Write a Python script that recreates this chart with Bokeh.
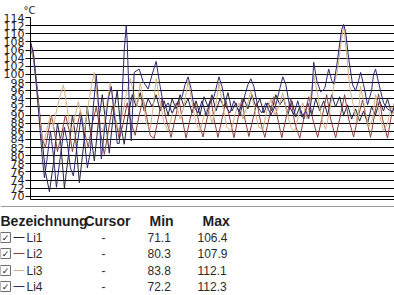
from bokeh.plotting import figure
from bokeh.models import Range1d, FixedTicker
from bokeh.layouts import column
from bokeh.embed import file_html
from bokeh.resources import INLINE
from bokeh.core.properties import value

# ---------------- data ----------------
y_ticks = [70, 72, 74, 76, 78, 80, 82, 84, 86, 88, 90, 92, 94, 96, 98, 100,
           102, 104, 106, 108, 110, 112, 114]
unit_label = "°C"

t_li1 = [0, 3, 6, 9, 12, 15, 19, 23, 27, 30, 34, 38, 42, 45, 49, 53, 57, 60, 64, 68,
         72, 75, 79, 83, 87, 90, 94, 98, 102, 106, 110, 114, 118, 122, 126, 130, 134,
         138, 142, 146, 150, 154, 158, 162, 166, 170, 174, 178, 182, 186, 190, 194,
         198, 202, 206, 210, 214, 218, 222, 226, 230, 234, 238, 242, 246, 250, 254,
         258, 262, 266, 270, 274, 278, 282, 286, 290, 294, 298, 302, 306, 310, 314,
         318, 322, 326, 330, 334, 338, 342, 346, 350, 354, 358, 362, 365]
v_li1 = [106.4, 104, 98, 91, 83, 76, 71.1, 78, 88, 84, 72, 80, 90, 85, 73.3, 82, 92, 86, 78.7, 88,
         95, 89, 80.6, 90, 96, 88, 82.8, 90, 95, 92, 95.5, 91, 94, 92, 95, 91, 93.5,
         90, 94, 91.5, 95, 92, 94, 90.5, 93.5, 90, 94.5, 92, 95, 91, 94, 92,
         95.5, 91, 93, 90, 94, 91.5, 95, 92, 94, 90.5, 93, 91, 95, 92.5, 94,
         90, 93.5, 89.5, 92, 89, 93, 90, 94, 91, 93.5, 90, 95, 92, 94.5, 90,
         92.5, 89, 91.5, 88.5, 91, 88, 92, 90, 93.5, 91, 94, 90.5, 92]

t_li2 = [0, 3, 6, 9, 12, 15, 18, 21, 24, 27, 31, 35, 39, 42, 46, 50, 54, 58, 62, 66,
         70, 74, 78, 82, 86, 89, 93, 97, 101, 105, 109, 113, 117, 120, 124, 128, 132, 136,
         141, 145, 149, 153, 156, 160, 165, 169, 173, 177, 181, 184, 188, 192, 196, 200,
         204, 208, 212, 215, 219, 223, 227, 231, 235, 239, 244, 248, 252, 256, 261, 265,
         270, 274, 279, 283, 288, 292, 297, 301, 306, 310, 315, 319, 324, 328, 333, 337,
         341, 345, 349, 353, 358, 362, 365]
v_li2 = [107.9, 105, 98, 90, 84, 82, 86, 90, 86, 81, 85, 90, 86, 81, 86, 91, 86, 82, 88, 92,
         86, 80.3, 86, 92, 88, 84, 88, 93, 88, 85, 90, 94, 89, 85, 84.2, 89, 94, 89,
         84.5, 89, 93.5, 88, 84.3, 89, 93, 88, 84.6, 89, 94, 89, 84.5, 89, 93.5, 89,
         84.4, 89, 94, 89, 84.7, 89, 93, 88, 84.5, 89, 94.5, 89, 84.4, 89, 94, 88,
         84.3, 89, 94.5, 89, 84.5, 89, 95, 89, 84.4, 89, 95, 89, 84.6, 89, 93.7, 89,
         84.5, 90, 95.2, 89, 84.3, 90, 93]

t_li3 = [0, 3, 6, 9, 12, 14, 17, 20, 23, 26, 30, 33, 36, 39, 42, 45, 48, 51, 54, 57,
         61, 64, 67, 70, 73, 76, 80, 83, 86, 89, 92, 96, 100, 104, 107, 110, 113, 116, 120, 123,
         126, 130, 134, 138, 142, 146, 150, 154, 158, 162, 166, 170, 174, 178, 182, 185, 189,
         193, 197, 201, 205, 209, 213, 217, 221, 225, 229, 233, 237, 241, 245, 249, 253, 257,
         261, 265, 269, 273, 277, 280, 284, 288, 292, 296, 300, 304, 308, 311, 314, 317,
         320, 324, 328, 331, 335, 339, 343, 346, 350, 354, 358, 362, 365]
v_li3 = [107, 104, 97, 90, 84, 83.8, 87, 90, 87, 91, 95, 97.4, 93, 88, 86, 90, 93.3, 90, 86, 91,
         97, 100.5, 94, 87, 86, 92, 98, 94, 88, 86, 90, 95, 99, 95, 92, 98, 94, 88, 86.5, 92,
         99, 93, 88, 86, 90, 93, 89, 92, 98.5, 93, 88, 86, 90, 92, 88, 91, 98,
         92, 87, 86, 90, 93, 89, 92, 96, 91, 87, 86.5, 91, 94, 90, 92, 95.5, 91,
         87, 86, 90, 93, 89, 93, 100, 95, 89, 86.5, 91, 97, 101, 107, 112.1, 105,
         97, 92, 88, 97, 92, 87, 89, 95, 90, 86, 88, 92, 90]

t_li4 = [0, 3, 6, 9, 12, 14, 17, 20, 23, 26, 30, 34, 37, 40, 43, 47, 51, 54, 57, 60,
         63, 66, 69, 71, 74, 78, 81, 84, 87, 89, 92, 94, 96, 97, 99, 101, 104, 109, 113, 118,
         122, 126, 130, 134, 138, 142, 147, 152, 155, 158, 161, 164, 168, 172, 176, 180, 184,
         187, 189, 192, 196, 200, 204, 209, 214, 218, 221, 224, 228, 232, 236, 241, 246,
         250, 253, 256, 260, 264, 268, 272, 276, 279, 282, 284, 287,
         291, 295, 299, 302, 304, 307, 310, 312, 314, 316, 319, 323, 326, 329, 331, 334, 338, 342,
         344, 346, 349, 354, 358, 363, 365]
v_li4 = [108, 105, 97, 88, 79, 74.5, 80, 86, 80, 72.2, 80, 87, 83, 77, 75, 83, 90, 84, 77, 81,
         92, 99.8, 90, 79.2, 86, 94, 97, 90, 83, 83, 95, 106, 112, 108, 93, 83.6, 100.5, 101.3, 98.2, 96.4,
         100, 103.2, 97, 91.5, 93, 90.5, 93, 94.5, 97.5, 99.4, 96.5, 92, 90.5, 93.5, 90, 93, 94.5,
         97.5, 99.4, 97, 92, 90.5, 93.5, 90.8, 94, 97.5, 98.9, 97, 92, 90.5, 93, 90, 92.5,
         96.5, 99.4, 97.5, 92, 90, 93.5, 89.5, 91, 89.1, 94.5, 103, 98.5,
         95.7, 96.5, 101.3, 98.5, 97.6, 102, 107.5, 111, 112.3, 110.5, 104, 97.4, 96, 98.5, 100.5, 97.5, 92.5, 96,
         100, 101.3, 98, 93, 91.5, 90.8, 92]

series_names = ["Li1", "Li2", "Li3", "Li4"]
series_colors = ["#24243c", "#8c4040", "#d6b084", "#2e2a74"]
cursor_vals = ["-", "-", "-", "-"]
min_vals = [71.1, 80.3, 83.8, 72.2]
max_vals = [106.4, 107.9, 112.1, 112.3]
headers = ["Bezeichnung", "Cursor", "Min", "Max"]

series_t = [t_li1, t_li2, t_li3, t_li4]
series_v = [v_li1, v_li2, v_li3, v_li4]
for a, b in zip(series_t, series_v):
    assert len(a) == len(b), (len(a), len(b))

# ---------------- chart ----------------
p = figure(width=394, height=203, x_range=Range1d(0, 365), y_range=Range1d(69.2, 114),
           output_backend="svg", toolbar_location=None,
           min_border_left=29, min_border_right=0, min_border_top=15, min_border_bottom=4)
p.frame_align = False
p.background_fill_color = "white"
p.border_fill_color = "white"
p.outline_line_color = None

for t, v, c in zip(series_t, series_v, series_colors):
    p.line(t, v, line_color=c, line_width=1)

p.title.text = unit_label
p.title.align = "left"
p.title.offset = -7
p.title.standoff = 4
p.title.text_font = "DejaVu Sans"
p.title.text_font_size = "10px"
p.title.text_font_style = "normal"
p.title.text_color = "#222222"

p.yaxis.ticker = FixedTicker(ticks=y_ticks)
p.ygrid.ticker = FixedTicker(ticks=y_ticks)
p.ygrid.grid_line_color = "black"
p.ygrid.grid_line_width = 1
p.xgrid.grid_line_color = None
p.yaxis.axis_line_color = "black"
p.yaxis.major_tick_line_color = "black"
p.yaxis.major_tick_out = 5
p.yaxis.major_tick_in = 0
p.yaxis.minor_tick_line_color = None
p.yaxis.major_label_standoff = 1
p.yaxis.major_label_text_font = "DejaVu Sans"
p.yaxis.major_label_text_font_size = "11px"
p.yaxis.major_label_text_color = "#222222"

# x axis: only its line, no ticks and no labels
p.xaxis.ticker = FixedTicker(ticks=[])
p.xaxis.major_tick_line_color = None
p.xaxis.minor_tick_line_color = None
p.xaxis.major_tick_out = 0
p.xaxis.major_tick_in = 0
p.xaxis.major_label_standoff = 0
p.xaxis.axis_line_color = "black"

# ---------------- table ----------------
q = figure(width=394, height=92, x_range=Range1d(0, 394), y_range=Range1d(92, 0),
           output_backend="svg", toolbar_location=None, min_border=0,
           x_axis_location=None, y_axis_location=None)
q.frame_align = False
q.grid.visible = False
q.outline_line_color = None
q.background_fill_color = "white"
q.border_fill_color = "white"

q.segment(x0=[0], y0=[3], x1=[394], y1=[3], line_color="#9a9a9a", line_width=1)

header_x = [0, 84, 149, 202]
q.text(x=header_x, y=[17] * 4, text=headers, text_font=value("Liberation Sans"),
       text_font_size=value("14px"), text_font_style="bold", text_color="#1e1e1e",
       text_baseline="middle", text_align="left")

row_y = [34, 50, 67, 83]
n = len(series_names)
q.rect(x=[5] * n, y=row_y, width=10, height=10, fill_color="white",
       line_color="#6e6e6e", line_width=1)
q.text(x=[5] * n, y=row_y, text=["\u2713"] * n, text_font=value("DejaVu Sans"),
       text_font_size=value("9px"), text_font_style="normal", text_color="#202020",
       text_align="center", text_baseline="middle")
q.segment(x0=[13] * n, y0=row_y, x1=[24] * n, y1=row_y, line_color=series_colors, line_width=1)
common = dict(text_font=value("Liberation Sans"), text_font_size=value("12px"),
              text_font_style="normal", text_color="#2a2a2a", text_baseline="middle")
q.text(x=[26] * n, y=row_y, text=series_names, text_align="left", **common)
q.text(x=[103] * n, y=row_y, text=cursor_vals, text_align="center", **common)
q.text(x=[147] * n, y=row_y, text=[f"{v:.1f}" for v in min_vals], text_align="left", **common)
q.text(x=[197] * n, y=row_y, text=[f"{v:.1f}" for v in max_vals], text_align="left", **common)

layout = column(p, q, spacing=0)
open("out.html", "w").write(file_html(layout, INLINE))
